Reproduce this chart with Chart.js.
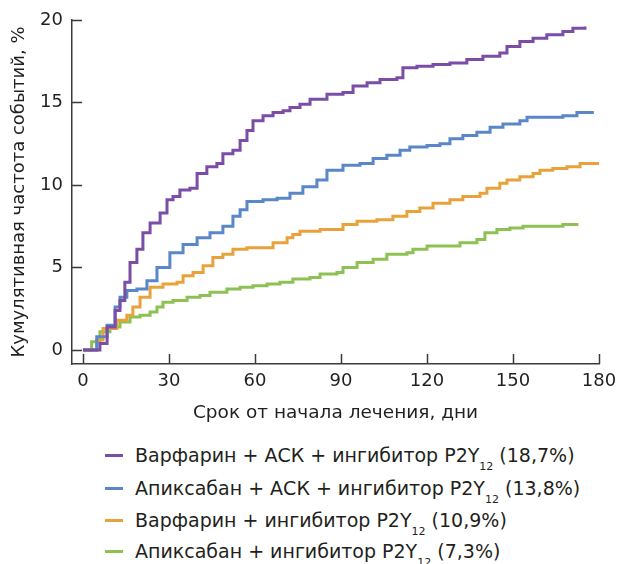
<!DOCTYPE html>
<html>
<head>
<meta charset="utf-8">
<script src="https://cdn.jsdelivr.net/npm/chart.js@4"></script>
<style>
  html, body { margin:0; padding:0; background:#fff; }
  #wrap { position:relative; width:618px; height:564px; overflow:hidden; font-family:"DejaVu Sans", sans-serif; color:#231f20; }
  #c { position:absolute; left:0; top:0; }
  .row { position:absolute; left:0; height:24px; line-height:24px; font-size:19px; white-space:nowrap; }
  .mk { position:absolute; left:105px; top:11px; width:18px; height:3px; }
  .tx { position:absolute; left:135px; top:0; }
  .tx sub { font-size:11px; vertical-align:-8px; line-height:0; }
</style>
</head>
<body>
<div id="wrap">
  <canvas id="c" width="618" height="430"></canvas>
  <div id="legend"></div>
</div>
<script>
// ---- data ----
const seriesLabels = [
  "Варфарин + АСК + ингибитор P2Y12 (18,7%)",
  "Апиксабан + АСК + ингибитор P2Y12 (13,8%)",
  "Варфарин + ингибитор P2Y12 (10,9%)",
  "Апиксабан + ингибитор P2Y12 (7,3%)"
];
const seriesColors = ["#7b4da6", "#5a87c8", "#e9a23b", "#8dc153"];

const warfTripleDays = [0, 2.4, 5.9, 8.4, 11.2, 12.9, 14.6, 16.4, 18.8, 20.9, 23.4, 26.9, 29.3, 31.4, 33.8, 37.3, 39.8, 43.2, 46.7, 48.8, 52.3, 54.8, 57.2, 59.3, 62.8, 66.3, 69.8, 72.2, 75.7, 79.2, 85.1, 90.7, 94.2, 99.1, 103.6, 109.5, 111.6, 116.5, 122.1, 128, 133.9, 139.5, 145.4, 147.9, 152.4, 157, 161.8, 167.4, 170.9, 175.1];
const warfTripleVals = [0, 0, 0.4, 1.4, 2.4, 3.0, 4.1, 5.3, 6.1, 7.1, 7.7, 8.3, 9.1, 9.3, 9.7, 9.8, 10.7, 11.1, 11.3, 11.9, 12.1, 12.7, 13.3, 13.9, 14.2, 14.4, 14.5, 14.7, 14.9, 15.2, 15.5, 15.6, 16.0, 16.2, 16.4, 16.5, 17.1, 17.2, 17.3, 17.4, 17.6, 17.8, 18.0, 18.4, 18.7, 18.9, 19.1, 19.3, 19.5, 19.6];

const apixTripleDays = [0, 4.8, 8.4, 11.2, 12.9, 15.3, 18.8, 22.3, 25.8, 30.3, 34.9, 39.8, 44.3, 48.8, 52.3, 54.8, 57.2, 62.8, 67.7, 72.2, 76.7, 81.6, 85.1, 90.7, 96.6, 101.2, 106, 110.6, 114, 120, 124.5, 128, 132.5, 137.4, 142, 146.5, 152.4, 154.9, 167.4, 172.3, 178.2];
const apixTripleVals = [0, 0.8, 1.5, 2.6, 3.2, 3.6, 3.7, 4.2, 5.0, 5.9, 6.4, 6.8, 7.1, 7.5, 8.1, 8.5, 9.0, 9.1, 9.2, 9.5, 9.9, 10.3, 10.9, 11.2, 11.3, 11.6, 11.8, 12.1, 12.3, 12.4, 12.5, 12.8, 13.0, 13.2, 13.5, 13.7, 13.9, 14.1, 14.2, 14.4, 14.4];

const warfDualDays = [0, 4.8, 7, 11.8, 15.3, 17.4, 19.9, 23.4, 27.9, 32.8, 34.9, 38.4, 41.9, 45.3, 48.8, 52.3, 57.2, 66.3, 71.2, 73.2, 75.7, 82.7, 90.7, 95.6, 102.5, 108.1, 113, 117.5, 122.1, 128, 132.5, 138.5, 140.9, 145.4, 147.9, 152.4, 157, 159.4, 163.9, 168.8, 173.4, 180];
const warfDualVals = [0, 0.6, 1.3, 1.8, 2.1, 2.6, 3.2, 3.8, 4.0, 4.1, 4.5, 4.7, 5.1, 5.6, 5.8, 6.1, 6.2, 6.5, 6.8, 7.0, 7.2, 7.3, 7.6, 7.8, 7.9, 8.1, 8.4, 8.6, 8.9, 9.1, 9.3, 9.5, 9.8, 10.1, 10.3, 10.5, 10.7, 10.9, 11.0, 11.1, 11.3, 11.4];

const apixDualDays = [0, 3, 5.9, 9.4, 12.9, 16.4, 19.9, 23.4, 25.8, 27.9, 31.4, 36.3, 40.8, 44.3, 50.2, 54.8, 59.3, 64.2, 68.7, 73.2, 79.2, 82.7, 88.6, 90.7, 95.6, 101.2, 106, 113, 115.1, 120, 131.5, 137.4, 140.2, 144.4, 148.9, 153.5, 167.4, 172.3];
const apixDualVals = [0, 0.5, 1.1, 1.4, 1.7, 2.0, 2.1, 2.3, 2.6, 2.9, 3.0, 3.2, 3.3, 3.5, 3.7, 3.8, 3.9, 4.0, 4.1, 4.3, 4.4, 4.6, 4.7, 5.0, 5.3, 5.5, 5.8, 5.9, 6.1, 6.3, 6.5, 6.7, 7.1, 7.3, 7.4, 7.5, 7.6, 7.7];

const xTickValues = [0, 30, 60, 90, 120, 150, 180];
const yTickValues = [0, 5, 10, 15, 20];
const xTitle = "Срок от начала лечения, дни";
const yTitle = "Кумулятивная частота событий, %";

// ---- build ----
const allDays = [warfTripleDays, apixTripleDays, warfDualDays, apixDualDays];
const allVals = [warfTripleVals, apixTripleVals, warfDualVals, apixDualVals];
const datasets = seriesLabels.map((lab, i) => ({
  label: lab,
  data: allDays[i].map((d, k) => ({ x: d, y: allVals[i][k] })),
  borderColor: seriesColors[i],
  backgroundColor: seriesColors[i],
  borderWidth: 3,
  pointRadius: 0,
  stepped: 'before',
  fill: false
}));

const FONT = '"DejaVu Sans", sans-serif';
const TXT = '#231f20';
const AXC = '#3a3a3a';

const innerTicks = {
  id: 'innerTicks',
  afterDraw(chart) {
    const ctx = chart.ctx;
    const xs = chart.scales.x, ys = chart.scales.y;
    const ca = chart.chartArea;
    ctx.save();
    ctx.strokeStyle = AXC;
    ctx.lineWidth = 1.5;
    ctx.beginPath();
    xs.ticks.forEach(t => {
      const px = Math.round(xs.getPixelForValue(t.value)) + 0.5;
      ctx.moveTo(px, ca.bottom);
      ctx.lineTo(px, ca.bottom - 10);
    });
    ys.ticks.forEach(t => {
      const py = Math.round(ys.getPixelForValue(t.value)) + 0.5;
      ctx.moveTo(ca.left, py);
      ctx.lineTo(ca.left + 10, py);
    });
    ctx.stroke();
    ctx.restore();
  }
};

const chart = new Chart(document.getElementById('c'), {
  type: 'line',
  data: { datasets },
  options: {
    responsive: false,
    animation: false,
    devicePixelRatio: 1,
    layout: { padding: { left: 0, right: 19, top: 20, bottom: 0 } },
    plugins: { legend: { display: false }, tooltip: { enabled: false } },
    scales: {
      x: {
        type: 'linear',
        min: -3.84,
        max: 180,
        afterBuildTicks: s => { s.ticks = xTickValues.map(v => ({ value: v })); },
        afterFit: s => { s.height = 66; s.paddingLeft = 0; s.paddingRight = 0; },
        grid: { display: false, drawTicks: false },
        border: { display: true, color: AXC, width: 1.5 },
        ticks: { font: { family: FONT, size: 18 }, color: TXT, padding: 7, maxRotation: 0, autoSkip: false },
        title: { display: true, text: xTitle, color: TXT, font: { family: FONT, size: 18.5 }, padding: { top: 0, bottom: 6 } }
      },
      y: {
        type: 'linear',
        min: -0.85,
        max: 20,
        afterBuildTicks: s => { s.ticks = yTickValues.map(v => ({ value: v })); },
        afterFit: s => { s.width = 72; s.paddingTop = 0; s.paddingBottom = 0; },
        grid: { display: false, drawTicks: false },
        border: { display: true, color: AXC, width: 1.5 },
        ticks: { font: { family: FONT, size: 18 }, color: TXT, padding: 9, autoSkip: false },
        title: { display: true, text: yTitle, color: TXT, font: { family: FONT, size: 18 }, padding: { top: 9, bottom: 0 } }
      }
    }
  },
  plugins: [innerTicks]
});

// HTML legend built from the chart's datasets (keeps subscript as real text)
const legendTops = [443, 476, 508, 539];
const leg = document.getElementById('legend');
chart.data.datasets.forEach((ds, i) => {
  const row = document.createElement('div');
  row.className = 'row';
  row.style.top = legendTops[i] + 'px';
  const mk = document.createElement('div');
  mk.className = 'mk';
  mk.style.background = ds.borderColor;
  const tx = document.createElement('div');
  tx.className = 'tx';
  tx.innerHTML = ds.label.replace('P2Y12', 'P2Y<sub>12</sub>');
  row.appendChild(mk);
  row.appendChild(tx);
  leg.appendChild(row);
});
</script>
</body>
</html>
